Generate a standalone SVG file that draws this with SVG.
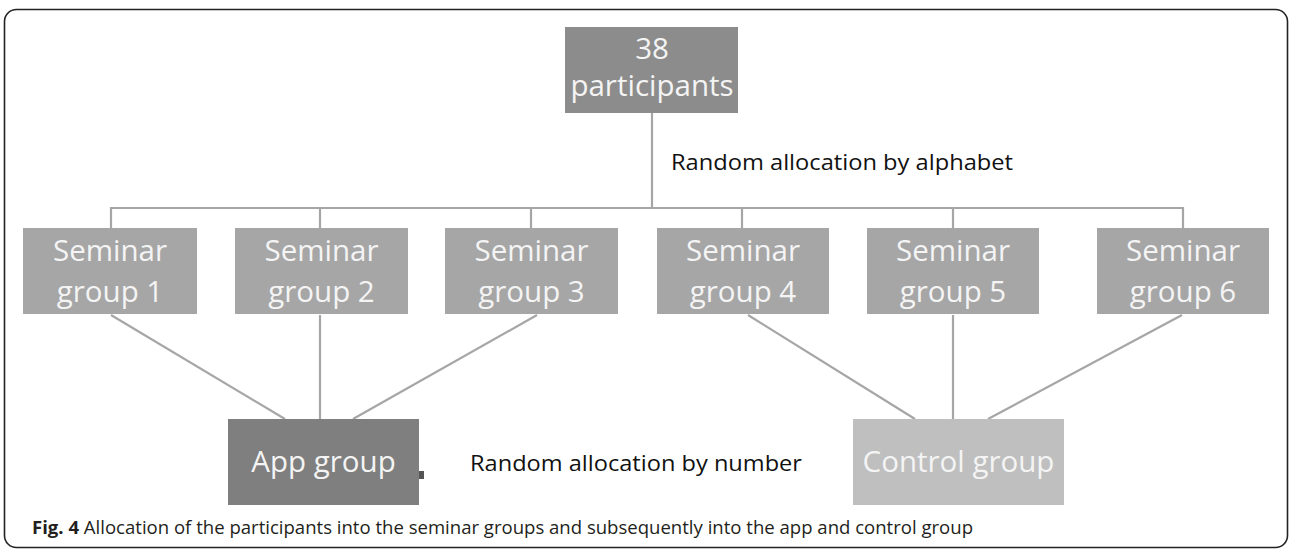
<svg xmlns="http://www.w3.org/2000/svg" width="1290" height="550" viewBox="0 0 1290 550">
<style>
.lbl{font-family:"Open Sans","Liberation Sans",sans-serif;font-size:29.5px;fill:#f4f4f4;text-anchor:middle}
.note{font-family:"Open Sans","Liberation Sans",sans-serif;font-size:21px;fill:#111}
.sem{fill:#a6a6a6}
.con line{stroke:#a6a6a6;stroke-width:2.2;fill:none}
.cap{font-family:"Open Sans","Liberation Sans",sans-serif;font-size:18px;fill:#231f20}
</style>
<rect x="0" y="0" width="1290" height="550" fill="#fff"/>
<rect x="4.5" y="9.5" width="1283" height="538" rx="12" fill="none" stroke="#222" stroke-width="1.6"/>
<g class="con" id="connectors">
<line x1="652" y1="113" x2="652" y2="208"/>
<line x1="110" y1="208" x2="1184" y2="208"/>
<line x1="111" y1="207" x2="111" y2="228"/>
<line x1="320" y1="207" x2="320" y2="228"/>
<line x1="531" y1="207" x2="531" y2="228"/>
<line x1="742" y1="207" x2="742" y2="228"/>
<line x1="953" y1="207" x2="953" y2="228"/>
<line x1="1183" y1="207" x2="1183" y2="228"/>
<line x1="111" y1="315" x2="285" y2="419"/>
<line x1="320" y1="315" x2="320" y2="419"/>
<line x1="537" y1="315" x2="353" y2="419"/>
<line x1="748" y1="315" x2="915" y2="419"/>
<line x1="953" y1="315" x2="953" y2="419"/>
<line x1="1182" y1="315" x2="988" y2="419"/>
</g>
<g id="n-participants">
<rect x="565" y="27" width="173" height="86" fill="#8c8c8c"/>
<text class="lbl" x="652" y="59">38</text>
<text class="lbl" x="652" y="96">participants</text>
</g>
<g id="n-sg1"><rect class="sem" x="23" y="228" width="174" height="86"/><text class="lbl" x="110" y="261">Seminar</text><text class="lbl" x="110" y="302">group 1</text></g>
<g id="n-sg2"><rect class="sem" x="235" y="228" width="173" height="86"/><text class="lbl" x="321.5" y="261">Seminar</text><text class="lbl" x="321.5" y="302">group 2</text></g>
<g id="n-sg3"><rect class="sem" x="445" y="228" width="173" height="86"/><text class="lbl" x="531.5" y="261">Seminar</text><text class="lbl" x="531.5" y="302">group 3</text></g>
<g id="n-sg4"><rect class="sem" x="657" y="228" width="172" height="86"/><text class="lbl" x="743" y="261">Seminar</text><text class="lbl" x="743" y="302">group 4</text></g>
<g id="n-sg5"><rect class="sem" x="867" y="228" width="172" height="86"/><text class="lbl" x="953" y="261">Seminar</text><text class="lbl" x="953" y="302">group 5</text></g>
<g id="n-sg6"><rect class="sem" x="1097" y="228" width="172" height="86"/><text class="lbl" x="1183" y="261">Seminar</text><text class="lbl" x="1183" y="302">group 6</text></g>
<g id="n-app">
<rect x="228" y="419" width="191" height="86" fill="#7f7f7f"/>
<rect x="419" y="471" width="5" height="8" fill="#555"/>
<text class="lbl" x="323.5" y="472">App group</text>
</g>
<g id="n-control">
<rect x="853" y="419" width="211" height="86" fill="#bfbfbf"/>
<text class="lbl" x="958.5" y="472">Control group</text>
</g>
<text class="note" x="671" y="170" textLength="342" lengthAdjust="spacingAndGlyphs">Random allocation by alphabet</text>
<text class="note" x="470" y="471" textLength="332" lengthAdjust="spacingAndGlyphs">Random allocation by number</text>
<text class="cap" x="32" y="534" textLength="941" lengthAdjust="spacingAndGlyphs"><tspan font-weight="bold">Fig. 4</tspan> Allocation of the participants into the seminar groups and subsequently into the app and control group</text>
</svg>
